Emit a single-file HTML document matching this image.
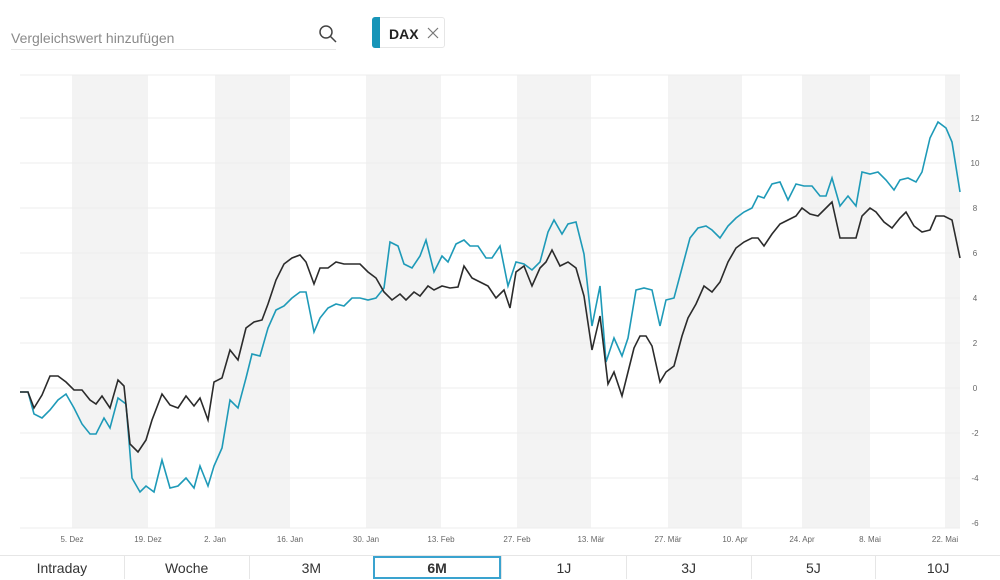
<!DOCTYPE html><html><head><meta charset="utf-8"><style>
body{margin:0;width:1000px;height:578px;background:#fff;font-family:"Liberation Sans",sans-serif;overflow:hidden;position:relative}
.search{position:absolute;left:11px;top:30px;width:325px;height:19px;border-bottom:1px solid #e8e8e8;color:#8a8a8a;font-size:14px}
.tag{position:absolute;left:372px;top:17px;width:73px;height:31px;border:1px solid #e6e6e6;border-radius:3px;box-sizing:border-box}
.tag .bar{position:absolute;left:-1px;top:-1px;width:8px;height:31px;background:#1795b8;border-radius:3px 0 0 3px}
.tag b{position:absolute;left:16px;top:8px;font-size:14px;color:#222}
.btns{position:absolute;left:0;top:555px;width:1000px;height:23px;border-top:1px solid #e6e6e6;display:flex}
.btns div{flex:1;text-align:center;font-size:14px;color:#333;border-left:1px solid #e6e6e6;line-height:24px;box-sizing:border-box}
.btns div.sel{border:2px solid #3aa3cf;font-weight:bold;line-height:20px}
</style></head><body>
<div class="search">Vergleichswert hinzufügen</div>
<svg style="position:absolute;left:318px;top:24px" width="20" height="20"><circle cx="8" cy="8" r="6" fill="none" stroke="#444" stroke-width="1.5"/><line x1="12.5" y1="12.5" x2="18" y2="18" stroke="#444" stroke-width="1.5"/></svg>
<div class="tag"><div class="bar"></div><b>DAX</b><svg style="position:absolute;left:54px;top:9px" width="12" height="12"><path d="M1 1L11 11M11 1L1 11" stroke="#777" stroke-width="1.2"/></svg></div>
<svg style="position:absolute;left:0;top:0" width="1000" height="555">
<g fill="#f3f3f3"><rect x="72" y="75" width="76" height="453"/><rect x="215" y="75" width="75" height="453"/><rect x="366" y="75" width="75" height="453"/><rect x="517" y="75" width="74" height="453"/><rect x="668" y="75" width="74" height="453"/><rect x="802" y="75" width="68" height="453"/><rect x="945" y="75" width="15" height="453"/></g>
<g stroke="#eeeeee" stroke-width="1"><line x1="20" x2="960" y1="75" y2="75"/><line x1="20" x2="960" y1="118" y2="118"/><line x1="20" x2="960" y1="163" y2="163"/><line x1="20" x2="960" y1="208" y2="208"/><line x1="20" x2="960" y1="253" y2="253"/><line x1="20" x2="960" y1="298" y2="298"/><line x1="20" x2="960" y1="343" y2="343"/><line x1="20" x2="960" y1="388" y2="388"/><line x1="20" x2="960" y1="433" y2="433"/><line x1="20" x2="960" y1="478" y2="478"/><line x1="20" x2="960" y1="528" y2="528"/></g>
<g font-size="8" fill="#666" text-anchor="middle"><text x="975" y="121">12</text><text x="975" y="166">10</text><text x="975" y="211">8</text><text x="975" y="256">6</text><text x="975" y="301">4</text><text x="975" y="346">2</text><text x="975" y="391">0</text><text x="975" y="436">-2</text><text x="975" y="481">-4</text><text x="975" y="526">-6</text>
<text x="72" y="542">5. Dez</text><text x="148" y="542">19. Dez</text><text x="215" y="542">2. Jan</text><text x="290" y="542">16. Jan</text><text x="366" y="542">30. Jan</text><text x="441" y="542">13. Feb</text><text x="517" y="542">27. Feb</text><text x="591" y="542">13. Mär</text><text x="668" y="542">27. Mär</text><text x="735" y="542">10. Apr</text><text x="802" y="542">24. Apr</text><text x="870" y="542">8. Mai</text><text x="945" y="542">22. Mai</text></g>
<polyline fill="none" stroke="#1e9ab8" stroke-width="1.6" points="20,392 28,392 34,414 42,418 50,410 58,400 66,394 74,408 82,424 90,434 96,434 104,418 110,428 118,398 126,404 132,478 140,492 146,486 154,492 162,460 170,488 178,486 186,478 194,488 200,466 208,486 214,466 222,448 230,400 238,408 246,378 252,354 260,356 268,328 276,310 284,306 292,298 300,292 306,292 314,332 320,318 328,308 336,304 344,306 352,298 360,298 368,300 376,298 384,288 390,242 398,246 404,264 412,268 420,256 426,240 434,272 442,256 448,262 456,244 464,240 470,246 478,246 486,258 492,258 500,246 508,286 516,262 524,264 532,270 540,262 548,232 554,220 562,234 568,224 576,222 584,254 592,326 600,286 606,362 614,338 622,356 628,338 636,290 644,288 652,290 660,326 666,300 674,298 682,268 690,238 698,228 706,226 712,230 720,238 728,226 736,218 744,212 752,208 758,196 764,198 772,184 780,182 788,200 796,184 804,186 812,186 820,196 826,196 832,178 840,206 848,196 856,206 862,172 870,174 878,172 886,180 894,190 900,180 908,178 916,182 922,172 930,138 938,122 946,128 952,142 960,192"/>
<polyline fill="none" stroke="#2b2b2b" stroke-width="1.6" points="20,392 28,392 34,408 42,395 50,376 58,376 66,382 74,390 82,390 90,400 96,404 102,396 110,408 118,380 124,386 130,444 138,452 146,440 152,420 162,394 170,405 178,408 186,396 194,406 200,398 208,420 214,382 222,378 230,350 238,360 246,328 254,322 262,320 268,304 276,280 284,264 292,258 300,255 306,262 314,284 320,268 328,268 336,262 344,264 352,264 360,264 368,272 376,278 384,292 392,300 400,294 406,300 414,292 420,296 428,286 434,290 442,286 450,288 458,287 464,266 472,278 480,282 488,286 496,298 504,290 510,308 516,272 524,266 532,286 540,268 546,262 552,250 560,266 568,262 576,268 584,296 592,350 600,316 608,384 614,372 622,396 628,372 634,348 640,336 646,336 652,346 660,382 666,372 674,366 682,336 688,318 696,304 704,286 712,292 720,282 728,262 736,248 744,242 752,238 758,238 764,246 772,234 780,224 788,220 796,216 802,208 810,214 818,216 826,208 832,202 840,238 848,238 856,238 862,216 870,208 876,212 884,222 892,228 900,218 906,212 914,226 922,232 930,230 936,216 944,216 952,220 960,258"/>
</svg>
<div class="btns"><div style="border-left:none">Intraday</div><div>Woche</div><div>3M</div><div class="sel">6M</div><div>1J</div><div>3J</div><div>5J</div><div>10J</div></div>
</body></html>
